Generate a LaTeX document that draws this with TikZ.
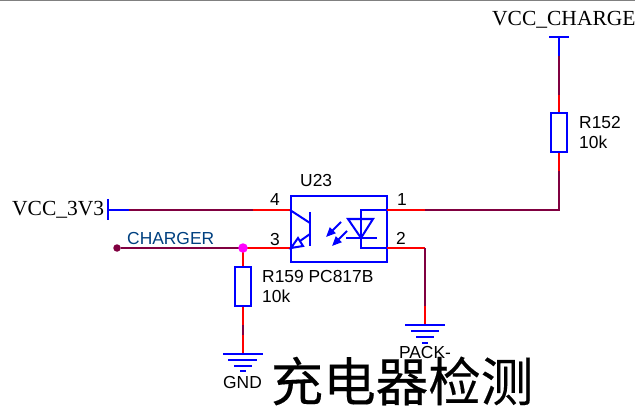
\documentclass[tikz,border=0pt]{standalone}
\usepackage{xcolor}
\usepackage{fontspec}
\setmainfont{Liberation Serif}
\setsansfont{Liberation Sans}
\newfontfamily\cjk[FakeBold=0.25]{Noto Sans CJK SC}
\usepackage{tikz}
\definecolor{partblue}{RGB}{0,0,255}
\definecolor{pinred}{RGB}{255,0,0}
\definecolor{wirepurple}{RGB}{128,0,64}
\definecolor{netblue}{RGB}{0,64,128}
\definecolor{juncpink}{RGB}{255,0,255}
\tikzset{
  part/.style={draw=partblue, line width=2pt},
  pin/.style={draw=pinred, line width=2pt},
  wire/.style={draw=wirepurple, line width=2pt},
  res/.style={part, rectangle, minimum width=15.5pt, minimum height=39pt, inner sep=0pt},
  sanslabel/.style={font=\sffamily\fontsize{17.4}{19}\selectfont, inner sep=0pt},
  seriflabel/.style={font=\rmfamily\fontsize{21.5}{23}\selectfont, inner sep=0pt}
}
\begin{document}
\begin{tikzpicture}[x=1pt, y=-1pt]
\useasboundingbox (0,0) rectangle (635,409);
\draw[gray, line width=1.5pt] (0,0)--(635,0);

% opto box and pins
\node[part, rectangle, minimum width=96pt, minimum height=65pt, inner sep=0pt] (u23) at (338.5,229) {};
\coordinate (p4) at (290,210);
\coordinate (p3) at (290,248);
\coordinate (p1) at (386.5,210);
\coordinate (p2) at (386.5,248);
\coordinate (p4end) at (253,210);
\coordinate (p3end) at (243,248);
\coordinate (p1end) at (425,210);
\coordinate (p2end) at (425,248);
\draw[pin] (p4)--(p4end);
\draw[pin] (p3)--(p3end);
\draw[pin] (p1)--(p1end);
\draw[pin] (p2)--(p2end);

% transistor
\draw[part] (310,212)--(310,246);
\draw[part] (p4)--(310,223);
\draw[part] (310,234)--(300,241);
\draw[part, line join=miter] (291,248)--(298,238)--(303,246)--cycle;

% diode
\draw[part] (p1)--(361,210)--(361,248)--(p2);
\draw[part] (348,219)--(373,219)--(361,238)--cycle;
\draw[part] (346,238)--(377,238);
\draw[part] (341,222)--(331,232);
\draw[part, fill=partblue, line width=1pt] (327,236)--(335,233)--(330,228)--cycle;
\draw[part] (347,231)--(337,241);
\draw[part, fill=partblue, line width=1pt] (333,245)--(341,242)--(336,237)--cycle;

% VCC_CHARGE to pin 1
\node[res] (r152) at (559,133) {};
\coordinate (vcctop) at (559,37);
\coordinate (a1) at (559,56);
\coordinate (a2) at (559,95);
\coordinate (a3) at (559,171);
\coordinate (a4) at (559,210);
\draw[part] (549,37)--(569,37);
\draw[part] (vcctop)--(a1);
\draw[wire] (a1)--(a2);
\draw[pin] (a2)--(r152.north);
\draw[pin] (r152.south)--(a3);
\draw[wire] (a3)--(a4)--(p1end);

% VCC_3V3
\coordinate (vcc3) at (108,210);
\coordinate (b1) at (129,210);
\draw[part] (108,199)--(108,219.5);
\draw[part] (vcc3)--(b1);
\draw[wire] (b1)--(p4end);

% CHARGER net
\node[circle, fill=wirepurple, minimum size=7.5pt, inner sep=0pt] (chgdot) at (117,248) {};
\draw[wire] (chgdot)--(p3end);
\node[res] (r159) at (243,286.5) {};
\coordinate (c1) at (243,325);
\coordinate (c2) at (243,335);
\coordinate (gndtop) at (243,353.5);
\draw[pin] (p3end)--(r159.north);
\draw[pin] (r159.south)--(c1);
\draw[wire] (c1)--(c2);
\draw[pin] (c2)--(gndtop);
\node[circle, fill=juncpink, minimum size=9.5pt, inner sep=0pt] (junc) at (p3end) {};

% GND symbol
\draw[part] (223,353.5)--(263,353.5);
\draw[part] (228,360)--(257,360);
\draw[part] (234,365.5)--(252,365.5);
\draw[part] (240,371)--(246,371);

% PACK- symbol
\coordinate (d1) at (425,306);
\coordinate (packtop) at (425,325);
\draw[wire] (p2end)--(d1);
\draw[pin] (d1)--(packtop);
\draw[part] (405,325)--(445,325);
\draw[part] (411,331)--(439,331);
\draw[part] (416,337)--(434,337);
\draw[part] (422,342.5)--(428,342.5);

% labels
\node[seriflabel, anchor=base west] (lcharge) at (492,26) {VCC\_CHARGE};
\node[seriflabel, anchor=base west] (l3v3) at (12,215) {VCC\_3V3};
\node[sanslabel, text=netblue, anchor=base west] (lchg) at (127,244) {CHARGER};
\node[sanslabel, anchor=base west] (lu23) at (300,186) {U23};
\node[sanslabel, anchor=base west] (ln4) at (270,206) {4};
\node[sanslabel, anchor=base west] (ln3) at (270,245) {3};
\node[sanslabel, anchor=base west] (ln1) at (397,206) {1};
\node[sanslabel, anchor=base west] (ln2) at (396,244) {2};
\node[sanslabel, anchor=base west] (lr152) at (579,129) {R152};
\node[sanslabel, anchor=base west] (lk152) at (579,149) {10k};
\node[sanslabel, anchor=base west] (lr159) at (262,282) {R159 PC817B};
\node[sanslabel, anchor=base west] (lk159) at (262,302) {10k};
\node[sanslabel, anchor=base] (lgnd) at (242.5,388) {GND};
\node[sanslabel, anchor=base] (lpack) at (425,358) {PACK-};
\node[font=\cjk\fontsize{52.5}{54}\selectfont, inner sep=0pt, anchor=center] (ltitle) at (402,381) {充电器检测};
\end{tikzpicture}
\end{document}
